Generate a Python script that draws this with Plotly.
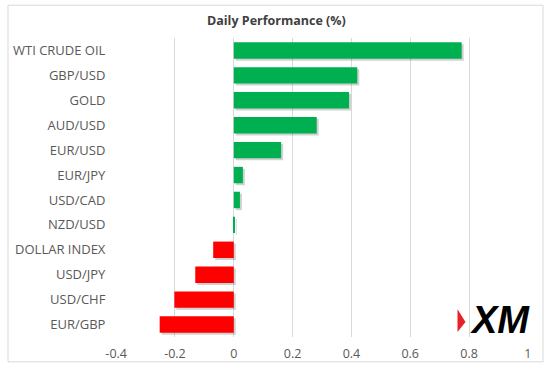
import plotly.graph_objects as go

categories = ["WTI CRUDE OIL", "GBP/USD", "GOLD", "AUD/USD", "EUR/USD", "EUR/JPY",
              "USD/CAD", "NZD/USD", "DOLLAR INDEX", "USD/JPY", "USD/CHF", "EUR/GBP"]
values = [0.775, 0.42, 0.392, 0.282, 0.161, 0.031, 0.021, 0.003, -0.07, -0.131, -0.202, -0.252]
x_ticks = [-0.4, -0.2, 0, 0.2, 0.4, 0.6, 0.8, 1]
x_tick_labels = ["-0.4", "-0.2", "0", "0.2", "0.4", "0.6", "0.8", "1"]
title_text = "Daily Performance (%)"

GREEN = "#00B050"
RED = "#FF0000"
colors = [GREEN if v >= 0 else RED for v in values]

W, H = 554, 374
L, R, T, B = 116, 26, 38, 35
pw, ph = W - L - R, H - T - B
xr = [-0.4005, 1.0005]
px_x = (xr[1] - xr[0]) / pw          # data units per pixel (x)
px_y = len(categories) / ph          # category units per pixel (y)
bar_w = 0.66

fig = go.Figure()
# soft shadow (offset 2px right / 2px down)
fig.add_trace(go.Bar(
    y=categories, x=values, orientation="h", base=2 * px_x,
    marker=dict(color="rgba(0,0,0,0.18)", line=dict(width=0)),
    width=bar_w, offset=-bar_w / 2 - 2 * px_y, hoverinfo="skip",
))
fig.add_trace(go.Bar(
    y=categories, x=values, orientation="h",
    marker=dict(color=colors, line=dict(width=0)),
    width=bar_w, offset=-bar_w / 2, hoverinfo="x+y",
))

font_family = "Open Sans, Lato, sans-serif"
fig.update_layout(
    width=W, height=H,
    margin=dict(l=L, r=R, t=T, b=B),
    paper_bgcolor="white", plot_bgcolor="white",
    showlegend=False, barmode="overlay",
    font=dict(family=font_family, size=13, color="#595959"),
    xaxis=dict(
        range=xr, tickvals=x_ticks, ticktext=x_tick_labels,
        showgrid=True, gridcolor="#D9D9D9", gridwidth=1,
        zeroline=True, zerolinecolor="#D9D9D9", zerolinewidth=1,
        showline=False, ticks="outside", ticklen=5, tickcolor="rgba(0,0,0,0)",
        fixedrange=True,
        tickfont=dict(size=12.5, color="#595959"),
    ),
    yaxis=dict(
        categoryorder="array", categoryarray=categories[::-1],
        range=[-0.5, len(categories) - 0.5],
        showgrid=False, zeroline=False, showline=False,
        ticks="outside", ticklen=7, tickcolor="rgba(0,0,0,0)",
        tickfont=dict(size=13, color="#595959"),
        fixedrange=True,
    ),
    annotations=[
        dict(text="<b>" + title_text + "</b>", xref="paper", yref="paper",
             x=(276 - L) / pw, y=(H - B - 20) / ph, xanchor="center", yanchor="middle",
             showarrow=False, font=dict(family=font_family, size=12.5, color="#404040")),
        dict(text="<b><i>XM</i></b>", xref="paper", yref="paper",
             x=(500 - L) / pw, y=(H - B - 322) / ph, xanchor="center", yanchor="middle",
             showarrow=False,
             font=dict(family="Liberation Sans, Arial, sans-serif", size=38, color="black")),
    ],
    shapes=[
        dict(type="rect", xref="paper", yref="paper",
             x0=(8 - L) / pw, x1=(543 - L) / pw,
             y0=(H - B - 364) / ph, y1=(H - B - 5) / ph,
             line=dict(color="#D9D9D9", width=1), fillcolor="rgba(0,0,0,0)", layer="below"),
        dict(type="path", xref="paper", yref="paper",
             path="M {a},{b} L {c},{d} L {e},{f} Z".format(
                 a=(457.5 - L) / pw, b=(H - B - 311) / ph,
                 c=(465.5 - L) / pw, d=(H - B - 324) / ph,
                 e=(457.5 - L) / pw, f=(H - B - 334) / ph),
             fillcolor="#E8202A", line=dict(width=0)),
    ],
)

fig.write_html("out.html", config={"displayModeBar": False},
               post_script="document.body.style.margin='0';document.body.style.overflow='hidden';")
